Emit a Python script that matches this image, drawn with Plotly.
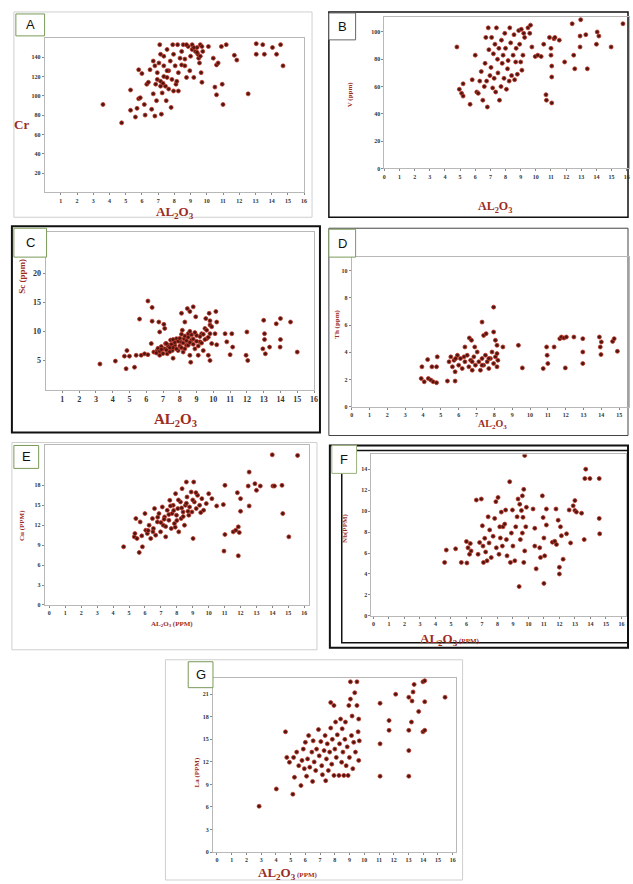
import plotly.graph_objects as go

W, H = 633, 884

# ---------------- data ----------------
A_x = [3.6,4.75,5.3,5.3,5.7,5.6,5.8,5.9,5.8,6.0,6.2,6.15,6.3,6.4,6.5,6.6,6.7,6.8,6.9,6.95,7.05,7.1,7.15,7.15,7.2,7.25,7.35,7.35,7.45,7.5,7.55,7.65,7.65,7.75,7.8,7.85,7.9,7.95,7.95,8.05,8.1,8.2,8.25,8.25,8.35,8.45,8.45,8.55,8.65,8.75,8.85,8.95,9.0,9.1,9.2,9.3,9.4,9.45,9.5,9.55,9.6,9.65,9.7,9.75,9.7,10.1,10.4,10.5,10.6,10.6,10.7,10.9,10.95,11.0,11.2,11.7,11.85,12.55,13.05,13.05,13.45,13.55,14.05,14.3,14.55,14.7,9.1,9.4,9.6,9.2,8.75,6.85,6.95,7.15,7.3,7.55,7.35,6.8,6.7,8.15,8.65,7.55]
A_y = [91,72,106,85,87,78,97,98,127,123,80,91,112,114,127,86,102,79,95,124,134,153,143,115,81,103,120,131,110,95,148,126,107,136,88,117,153,143,105,131,112,153,124,105,139,132,146,153,131,119,151,126,141,153,119,146,150,143,139,134,153,124,114,146,151,151,139,109,101,132,134,151,112,91,153,142,137,102,154,143,153,143,150,143,153,131,148,145,141,150,153,112,117,110,113,126,141,131,136,115,138,119]

B_x = [4.79,4.95,5.1,5.2,5.2,5.66,5.8,6.0,6.1,6.2,6.3,6.4,6.5,6.6,6.65,6.7,6.75,6.8,6.86,6.9,6.97,7.04,7.08,7.15,7.2,7.25,7.3,7.35,7.4,7.47,7.5,7.56,7.6,7.7,7.73,7.78,7.84,7.9,7.95,8.0,8.06,8.13,8.17,8.24,8.28,8.34,8.4,8.5,8.56,8.6,8.67,8.7,8.78,8.87,8.93,9.0,9.04,9.08,9.15,9.2,9.26,9.48,9.6,9.65,9.74,9.96,10.13,10.35,10.52,10.67,10.7,10.9,11.0,11.0,11.05,11.05,11.05,11.2,11.26,11.55,11.9,12.4,12.5,12.57,12.96,12.92,12.92,13.3,13.4,14.05,14.0,14.16,14.97,15.75]
B_y = [89,58,55,53,62,47,65,83,56,55,64,71,50,60,77,96,64,45,103,87,68,74,96,59,84,66,91,56,103,80,70,88,50,60,94,77,83,66,99,88,58,73,79,64,103,92,68,83,98,65,78,88,69,101,91,78,102,72,83,99,96,103,99,105,89,82,83,82,91,54,50,96,88,83,75,67,48,95,96,94,78,106,83,73,109,97,89,98,73,100,91,97,89,106]

C_x = [3.24,4.16,4.7,4.85,4.8,5.0,5.3,5.4,5.6,5.7,5.9,6.1,6.1,6.3,6.35,6.35,6.45,6.65,6.75,6.8,6.8,6.95,7.05,7.1,7.15,7.25,7.35,7.45,7.55,7.6,7.7,7.8,7.9,8.05,8.1,8.15,8.2,8.25,8.3,8.4,8.45,8.5,8.6,8.6,8.65,8.7,8.8,8.9,8.95,9.0,9.1,9.2,9.3,9.4,9.5,9.55,9.6,9.7,9.75,9.8,9.8,9.9,10.1,10.15,10.2,10.2,10.7,10.8,11.0,11.1,11.15,12.0,11.95,12.05,13.0,13.05,13.05,12.95,13.1,13.35,13.75,14.0,14.0,13.98,14.6,15.0,
       6.6,6.7,6.8,6.9,7.0,7.1,7.2,7.3,7.4,7.5,7.6,7.7,7.8,7.9,8.0,8.0,8.1,8.2,8.3,8.3,8.4,8.5,8.5,8.6,8.7,8.8,8.8,8.9,9.0,9.1,9.2,9.3,9.4,9.5,9.6,9.7,9.8,9.8,9.9,7.2,7.6,8.1,8.6,6.9,7.4]
C_y = [4.4,4.9,5.75,6.7,3.6,5.75,3.85,5.9,12.1,5.9,6.15,6.0,15.2,7.9,14.1,11.75,6.45,6.7,11.6,9.9,5.9,7.0,11.2,10.5,7.9,6.15,7.6,8.5,6.7,5.4,7.6,8.75,6.7,8.2,13.1,10.2,6.45,8.75,11.6,7.6,13.9,9.6,5.9,13.4,4.7,8.5,14.2,7.0,12.5,9.3,5.9,8.2,9.6,6.7,10.5,12.2,8.75,5.9,13.1,11.1,5.0,7.9,9.6,13.4,11.6,7.7,9.6,8.2,6.0,9.6,7.3,9.9,5.9,5.0,11.9,9.6,8.6,7.0,6.15,7.3,11.3,12.2,8.6,7.3,11.6,6.45,
       6.3,7.1,6.6,7.4,6.2,7.0,6.8,7.5,6.5,7.8,7.2,8.1,7.0,8.3,7.5,8.8,7.2,8.0,9.2,7.0,8.4,7.6,9.0,8.1,9.4,7.8,8.7,9.8,8.3,7.5,9.1,8.0,9.5,8.6,10.2,9.0,11.8,9.6,10.8,7.9,8.6,9.5,10.0,6.9,7.2]

D_x = [3.94,3.9,4.07,4.26,4.3,4.44,4.5,4.57,4.76,4.76,4.8,5.37,5.8,
       5.46,5.56,5.65,5.74,5.8,5.93,6.0,6.1,6.2,6.35,6.48,6.57,6.67,6.76,6.85,6.94,7.04,7.13,7.22,7.31,7.4,7.5,7.6,7.69,7.78,7.87,7.96,8.06,8.15,8.2,8.15,5.83,6.3,6.76,7.31,7.69,
       6.35,6.6,6.72,6.9,7.31,7.4,7.54,7.96,7.96,8.06,8.15,8.48,9.35,9.57,10.74,10.93,10.96,11.0,11.35,11.67,11.76,11.9,12.04,11.98,12.46,12.96,12.96,12.96,13.89,13.94,13.98,14.0,14.63,14.72,14.9]
D_y = [2.93,2.07,1.83,3.46,2.07,1.95,2.93,1.83,1.76,2.93,3.66,1.88,1.88,
       3.3,3.66,2.93,3.41,2.56,3.78,3.05,3.54,2.8,3.3,3.78,2.93,3.41,2.68,3.66,3.05,4.02,3.3,2.68,3.54,3.05,3.78,3.3,2.8,3.54,4.02,3.17,3.66,2.93,3.41,3.9,3.54,3.66,3.3,3.05,3.54,
       4.39,5.05,4.88,4.39,6.22,5.24,5.37,7.32,5.49,4.88,4.51,4.39,4.51,2.85,2.8,4.39,3.78,3.17,4.39,5.0,5.12,5.05,5.12,2.85,5.12,5.0,4.02,3.17,5.12,4.39,3.83,4.76,4.8,5.0,4.07]

E_x = [4.66,5.33,5.37,5.43,5.5,5.64,5.7,5.84,6.0,6.05,6.15,6.26,6.36,6.47,6.53,6.6,6.67,6.78,6.88,6.98,7.09,7.15,7.23,7.3,7.4,7.5,7.56,7.65,7.7,7.77,7.85,7.92,7.98,8.06,8.12,8.23,8.27,8.33,8.39,8.48,8.54,8.6,8.64,8.75,8.8,8.9,8.95,9.02,9.06,9.1,9.22,9.3,9.43,9.57,9.68,9.85,10.0,10.2,10.5,10.92,11.02,11.02,10.96,11.54,11.7,11.8,11.86,11.86,11.92,12.0,12.0,12.48,12.54,12.54,12.9,13.0,13.24,13.99,14.03,14.13,14.6,14.65,15.03,15.58,
       7.2,7.5,7.8,8.0,8.3,8.6,7.0,7.6,8.1,8.7,9.0,6.8,7.3,7.9,8.4,9.2,9.5,6.5,6.2,5.8]
E_y = [8.75,10.25,10.75,13.0,10.0,7.9,12.5,8.75,13.75,11.25,10.75,12.0,10.0,13.0,11.5,14.5,10.5,12.5,13.75,11.0,14.75,12.0,13.25,10.25,14.25,12.75,15.75,11.5,13.75,15.0,12.25,16.75,13.5,14.5,11.0,15.5,13.0,17.5,14.0,12.0,15.0,18.5,16.25,13.5,14.75,17.0,14.0,10.0,18.5,15.5,14.5,16.5,15.0,16.0,14.25,15.25,16.75,16.0,14.9,15.1,18.0,10.6,8.1,11.0,11.25,16.9,11.75,7.4,10.9,16.0,14.1,17.9,20.0,14.9,18.25,17.25,17.9,22.6,17.9,17.9,18.0,13.75,10.25,22.5,
       12.9,13.6,14.2,12.7,14.6,15.3,12.4,14.9,15.8,14.1,15.8,13.2,11.8,11.7,13.3,16.9,13.9,11.0,11.2,10.4]

F_x = [4.59,4.7,5.3,5.67,6.0,6.03,6.1,6.2,6.25,6.3,6.64,6.75,6.85,6.96,7.03,7.07,7.1,7.18,7.24,7.33,7.4,7.46,7.5,7.6,7.72,7.82,7.9,7.93,8.04,8.1,8.15,8.19,8.25,8.32,8.36,8.47,8.53,8.58,8.62,8.79,8.84,8.9,8.97,9.0,9.12,9.18,9.27,9.33,9.4,9.44,9.48,9.55,9.61,9.61,9.65,9.7,9.7,9.76,9.76,9.83,9.87,10.3,10.41,10.41,10.5,10.73,10.78,10.9,10.95,11.0,11.05,11.0,11.16,11.16,11.55,11.7,11.78,11.81,11.92,12.0,12.0,12.07,12.13,12.24,12.46,12.63,12.72,12.89,13.0,13.0,13.1,13.43,13.6,13.7,13.64,13.97,14.57,14.57,14.6]
F_y = [5.1,6.28,6.4,5.1,7.1,5.05,6.5,5.88,6.9,6.2,11.05,5.88,7.0,11.15,8.6,6.66,5.1,7.4,6.1,5.26,9.45,6.96,8.2,5.57,7.6,9.3,10.9,6.5,11.3,5.88,8.5,7.43,9.9,6.66,8.5,8.76,10.1,7.28,5.73,12.8,5.1,7.9,10.1,6.66,5.26,8.5,9.45,11.15,2.8,10.65,7.28,10.06,11.45,7.9,9.4,12.07,5.1,6.2,15.3,8.5,10.37,10.2,8.36,6.66,4.49,6.5,5.57,11.45,9.38,7.43,5.73,3.1,10.2,8.67,7.03,7.12,10.2,6.81,9.13,4.64,4.0,8.5,7.65,5.41,7.83,10.1,6.96,10.5,11.0,10.06,9.9,9.8,7.28,14.0,13.1,13.1,13.1,9.3,7.83]

G_x = [2.86,4.03,4.65,4.74,4.92,5.15,5.2,5.26,5.41,5.55,5.7,5.77,5.86,5.93,6.0,6.08,6.15,6.22,6.3,6.44,6.49,6.53,6.6,6.7,6.76,6.89,6.94,7.05,7.11,7.16,7.27,7.34,7.38,7.43,7.49,7.56,7.65,7.72,7.72,7.79,7.83,7.94,7.94,8.0,8.05,8.1,8.17,8.28,8.32,8.39,8.46,8.5,8.55,8.61,8.68,8.72,8.77,8.84,8.9,8.95,8.99,9.06,9.06,9.13,9.17,9.22,9.28,9.35,9.4,9.5,9.5,9.58,9.62,9.62,9.66,11.07,11.07,11.07,11.68,11.68,12.13,13.02,13.02,13.02,13.02,13.2,13.24,13.31,13.38,13.69,13.98,14.1,13.98,14.1,14.1,15.48]
G_y = [6.1,8.4,16.0,12.6,11.95,7.7,12.6,9.95,13.3,11.5,8.85,12.2,13.7,11.1,14.6,10.1,12.4,15.5,11.3,13.3,9.4,14.8,12.0,10.85,13.7,16.3,12.8,14.7,11.5,10.3,13.5,15.5,9.5,12.4,14.4,10.85,13.3,16.5,19.9,11.7,15.0,19.5,10.2,13.7,17.3,12.6,15.6,10.2,14.4,17.7,11.95,16.4,13.3,10.2,15.0,17.3,11.5,14.0,10.2,19.5,12.6,22.65,20.35,15.5,18.1,11.1,14.6,21.2,13.3,22.65,19.5,16.0,17.7,12.2,14.8,19.8,14.4,10.1,17.5,16.2,21.0,20.6,16.2,13.5,10.1,17.3,20.1,21.3,22.3,18.7,22.65,22.8,16.0,16.2,20.0,20.6]

# tick labels
A_xt = list(range(1, 17)); A_yt = [20, 40, 60, 80, 100, 120, 140]
B_xt = list(range(0, 17)); B_yt = [0, 20, 40, 60, 80, 100]
C_xt = list(range(1, 17)); C_yt = [5, 10, 15, 20]
D_xt = list(range(0, 16)); D_yt = [0, 2, 4, 6, 8, 10]
E_xt = list(range(0, 17)); E_yt = [0, 3, 6, 9, 12, 15, 18]
F_xt = list(range(0, 17)); F_yt = [0, 2, 4, 6, 8, 10, 12, 14]
G_xt = list(range(0, 17)); G_yt = [0, 3, 6, 9, 12, 15, 18, 21]

# ---------------- helpers ----------------
def PX(x):
    return x / W

def PY(y):
    return 1 - y / H

RED = "#9b2d1f"
SERIF = "Liberation Serif"

fig = go.Figure()

panels = [
    # key, xs, ys, plot px box (l, r, t, b), xrange, yrange, xticks, yticks, tick size
    ("A", A_x, A_y, (43, 305, 38, 193), [0, 16], [0, 160], A_xt, A_yt, 6),
    ("B", B_x, B_y, (386, 633, 17, 169), [0, 16.15], [0, 111], B_xt, B_yt, 6),
    ("C", C_x, C_y, (44, 315, 233, 391), [0, 16], [0, 27], C_xt, C_yt, 8),
    ("D", D_x, D_y, (353, 633, 258, 408), [0, 15.55], [0, 11], D_xt, D_yt, 6),
    ("E", E_x, E_y, (43, 310, 447, 607), [-0.3, 16.3], [0, 24], E_xt, E_yt, 6),
    ("F", F_x, F_y, (373, 630, 456, 618), [-0.13, 16.3], [0, 15.4], F_xt, F_yt, 6),
    ("G", G_x, G_y, (213, 458, 680, 855), [-0.27, 16.2], [0, 23.2], G_xt, G_yt, 6),
]

for i, (key, xs, ys, box, xr, yr, xt, yt, ts) in enumerate(panels):
    n = "" if i == 0 else str(i + 1)
    l, r, t, b = box
    fig.add_trace(go.Scatter(
        x=xs, y=ys, mode="markers", xaxis="x" + n, yaxis="y" + n,
        marker=dict(size=4, color="#4e1610", line=dict(color="#c0392b", width=0.8)),
        showlegend=False, hoverinfo="skip"))
    common = dict(showgrid=False, zeroline=False, showline=True, mirror=True,
                  linecolor="#b8b8b8", linewidth=1, ticks="outside", ticklen=2,
                  tickcolor="#888", tickfont=dict(family=SERIF, size=ts, color="#333", weight="bold"),
                  fixedrange=True)
    fig.layout["xaxis" + n] = dict(domain=[PX(l), PX(r)], range=xr, tickvals=xt,
                                   anchor="y" + n, **common)
    fig.layout["yaxis" + n] = dict(domain=[PY(b), PY(t)], range=yr, tickvals=yt,
                                   anchor="x" + n, **common)

# ---------------- axis titles ----------------
AL = "AL<sub>2</sub>O<sub>3</sub>"
titles = [
    ("Cr", 20, 125, 13, 0),
    ("V (ppm)", 351, 95, 7, -90),
    ("Sc (ppm)", 20, 277, 9, -90),
    ("Th (ppm)", 338, 325, 7, -90),
    ("Cu (PPM)", 20, 527, 7, -90),
    ("Nb(PPM)", 346, 530, 7, -90),
    ("La (PPM)", 197, 775, 7, -90),
    (AL, 175, 213, 13, 0),
    (AL, 498, 208, 12, 0),
    (AL, 175, 421, 15, 0),
    (AL, 495, 426, 10, 0),
    (AL + " (PPM)", 172, 626, 7, 0),
    (AL + "<span style='font-size:7px'> (PPM)</span>", 452, 642, 13, 0),
    (AL + "<span style='font-size:7px'> (PPM)</span>", 289, 876, 13, 0),
]
for text, x, y, size, ang in titles:
    fig.add_annotation(text=text, x=PX(x), y=PY(y), xref="paper", yref="paper",
                       showarrow=False, textangle=ang, xanchor="center", yanchor="middle",
                       font=dict(family=SERIF, size=size, color=RED, weight="bold"))

# ---------------- panel label boxes ----------------
labels = [
    ("A", 14, 14, 43, 36, "#7a9a5a"),
    ("B", 330, 13, 357, 40, "#666"),
    ("C", 12, 229, 45, 258, "#7a9a5a"),
    ("D", 330, 230, 357, 258, "#7a9a5a"),
    ("E", 12, 447, 37, 470, "#7a9a5a"),
    ("F", 333, 447, 358, 475, "#9ab07a"),
    ("G", 188, 664, 213, 690, "#7a9a5a"),
]
for text, x0, y0, x1, y1, bc in labels:
    fig.add_shape(type="rect", xref="paper", yref="paper",
                  x0=PX(x0), x1=PX(x1), y0=PY(y1), y1=PY(y0),
                  line=dict(color=bc, width=1), fillcolor="white", layer="above")
    fig.add_annotation(text=text, x=PX((x0 + x1) / 2), y=PY((y0 + y1) / 2),
                       xref="paper", yref="paper", showarrow=False,
                       xanchor="center", yanchor="middle",
                       font=dict(family="Liberation Sans", size=13, color="#111"))

# ---------------- panel frames ----------------
frames = [
    (12, 12, 313, 218, "#cfcfcf", 1),
    (330, 12, 632, 218, "#111", 1.5),
    (10, 227, 321, 434, "#111", 2),
    (330, 229, 632, 437, "#444", 1),
    (10, 444, 318, 652, "#cfcfcf", 1),
    (331, 447, 632, 650, "#111", 2),
    (343, 452, 632, 645, "#111", 1.5),
    (165, 662, 465, 883, "#cfcfcf", 1),
]
for x0, y0, x1, y1, c, w in frames:
    fig.add_shape(type="rect", xref="paper", yref="paper",
                  x0=PX(x0), x1=PX(x1), y0=PY(y1), y1=PY(y0),
                  line=dict(color=c, width=w), layer="below")

fig.update_layout(width=W, height=H, margin=dict(l=0, r=0, t=0, b=0),
                  paper_bgcolor="white", plot_bgcolor="white", showlegend=False)

fig.write_html("out.html", config={"displayModeBar": False})
